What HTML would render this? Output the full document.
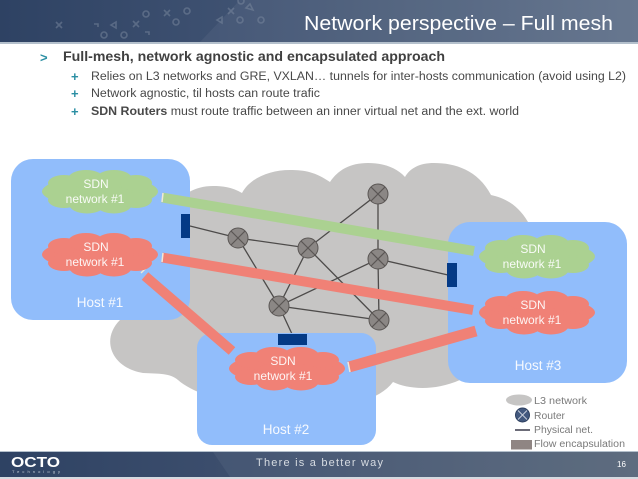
<!DOCTYPE html>
<html>
<head>
<meta charset="utf-8">
<style>
html,body{margin:0;padding:0;background:#fff;width:638px;height:479px;overflow:hidden}
svg{display:block;filter:blur(.3px)}
text{font-family:"Liberation Sans",sans-serif}
</style>
</head>
<body>
<svg width="638" height="479" viewBox="0 0 638 479" xmlns="http://www.w3.org/2000/svg">
<defs>
<linearGradient id="bar" x1="0" x2="1" y1="0" y2="0">
<stop offset="0" stop-color="#2e4263"/><stop offset=".33" stop-color="#3d5070"/><stop offset="1" stop-color="#5f7089"/>
</linearGradient>
<linearGradient id="foot" x1="0" x2="1" y1="0" y2="0">
<stop offset="0" stop-color="#2e4263"/><stop offset=".33" stop-color="#3b4d6c"/><stop offset="1" stop-color="#566579"/>
</linearGradient>
<g id="c">
<ellipse cx="58" cy="22.500" rx="58" ry="15"/>
<ellipse cx="22" cy="14" rx="16" ry="8"/>
<ellipse cx="44" cy="10" rx="18" ry="9"/>
<ellipse cx="72" cy="10" rx="18" ry="9"/>
<ellipse cx="94" cy="14" rx="16" ry="8"/>
<ellipse cx="22" cy="31" rx="16" ry="8"/>
<ellipse cx="45" cy="35" rx="18" ry="9.500"/>
<ellipse cx="72" cy="35" rx="18" ry="9.500"/>
<ellipse cx="94" cy="31" rx="16" ry="8"/>
</g>
<g id="r">
<circle r="10" fill="#8b8785" stroke="#5a5654" stroke-width="1"/>
<path d="M-7-7L7 7M7-7L-7 7" stroke="#5a5654" stroke-width="1.2"/>
</g>
</defs>

<!-- header -->
<rect x="0" y="0" width="638" height="42" fill="url(#bar)"/>
<polygon points="240,0 638,0 638,42 200,42" fill="#fff" opacity=".05"/>
<rect x="0" y="42" width="638" height="2" fill="#b4c0cc"/>
<g fill="none" stroke="#7d8ba0" stroke-width="1.6" opacity=".5">
<circle cx="146" cy="14" r="3"/><circle cx="187" cy="11" r="3"/><circle cx="176" cy="22" r="3"/><circle cx="104" cy="35" r="3"/><circle cx="124" cy="35" r="3"/><circle cx="240" cy="20" r="3"/><circle cx="261" cy="20" r="3"/><circle cx="241" cy="1" r="3"/>
<path d="M56 22l6 6M62 22l-6 6M133 21l6 6M139 21l-6 6M164 10l6 6M170 10l-6 6M228 8l6 6M234 8l-6 6M94 24h4v3M145 32h4v3M111 25l5-3v6zM217 20l5-3v6zM246 8l4-4 3 6z"/>
</g>
<text x="304" y="30" font-size="20" fill="#fff" textLength="309" lengthAdjust="spacingAndGlyphs">Network perspective – Full mesh</text>

<!-- bullets -->
<text x="40" y="62" font-size="13" font-weight="bold" fill="#2b8fa3">&gt;</text>
<text x="63" y="61" font-size="14" font-weight="bold" fill="#404040" textLength="382" lengthAdjust="spacingAndGlyphs">Full-mesh, network agnostic and encapsulated approach</text>
<g font-size="13" font-weight="bold" fill="#2b8fa3">
<text x="71" y="81">+</text><text x="71" y="98">+</text><text x="71" y="116">+</text>
</g>
<g font-size="11.5" fill="#484848">
<text x="91" y="80" textLength="535" lengthAdjust="spacingAndGlyphs">Relies on L3 networks and GRE, VXLAN… tunnels for inter-hosts communication (avoid using L2)</text>
<text x="91" y="97" textLength="229" lengthAdjust="spacingAndGlyphs">Network agnostic, til hosts can route trafic</text>
<text x="91" y="115" textLength="428" lengthAdjust="spacingAndGlyphs"><tspan font-weight="bold">SDN Routers</tspan> must route traffic between an inner virtual net and the ext. world</text>
</g>

<!-- L3 cloud -->
<g fill="#c6c5c4">
<path d="M120 320C100 340 112 368 143 373C160 374 170 373 178 380C195 395 240 410 300 405C340 405 375 405 393 382C410 390 440 392 470 375L600 330L528 222C518 205 505 198 491 195C478 170 455 163 434 163C420 163 410 168 405 177C395 166 380 163 368 163C350 163 338 170 330 182C315 172 305 170 290 170C270 170 250 178 242 193C232 187 222 186 213 186C195 186 180 195 170 210L100 300Z"/>
</g>

<!-- links -->
<g stroke="#4d4b4a" stroke-width="1.3" fill="none">
<path d="M190 226L238 238L308 248L378 194V259L379 320L279 306L238 238M308 248L279 306L378 259L448 275M308 248L379 320M279 306L292 334"/>
</g>

<!-- routers -->
<use href="#r" x="378" y="194"/>
<use href="#r" x="238" y="238"/>
<use href="#r" x="308" y="248"/>
<use href="#r" x="378" y="259"/>
<use href="#r" x="279" y="306"/>
<use href="#r" x="379" y="320"/>

<!-- hosts -->
<g fill="#91bdfb">
<rect x="11" y="159" width="179" height="161" rx="22"/>
<rect x="197" y="333" width="179" height="112" rx="15"/>
<rect x="448" y="222" width="179" height="161" rx="22"/>
</g>

<!-- encapsulation ports -->
<g fill="#043a86">
<rect x="181" y="214" width="9" height="24"/>
<rect x="447" y="263" width="10" height="24"/>
<rect x="278" y="334" width="29" height="11"/>
</g>

<!-- tunnels -->
<g stroke-width="10" fill="none">
<path d="M162 197.500L474 251" stroke="#abd191"/>
<path d="M162 257.500L473 310" stroke="#f08176"/>
<path d="M145 276L232 351" stroke="#f08176"/>
<path d="M349 367L476 331" stroke="#f08176" stroke-width="11"/>
</g>
<g stroke="#f1e8d8" stroke-width="1.500" fill="none">
<path d="M163 193L162 202"/><path d="M163 253L162 262"/><path d="M141 273L147 267"/><path d="M348 362L350 372"/>
</g>

<!-- SDN clouds -->
<use href="#c" x="42" y="169" fill="#abd191"/>
<use href="#c" x="42" y="232" fill="#f08176"/>
<use href="#c" x="479" y="234" fill="#abd191"/>
<use href="#c" x="479" y="290" fill="#f08176"/>
<use href="#c" x="229" y="346" fill="#f08176"/>

<g font-size="12" fill="#fff" text-anchor="middle" opacity=".92">
<text x="96" y="188">SDN</text><text x="95" y="203">network #1</text>
<text x="96" y="251">SDN</text><text x="95" y="266">network #1</text>
<text x="533" y="253">SDN</text><text x="532" y="268">network #1</text>
<text x="533" y="309">SDN</text><text x="532" y="324">network #1</text>
<text x="283" y="365">SDN</text><text x="283" y="380">network #1</text>
<text x="100" y="307" font-size="13.500">Host #1</text>
<text x="286" y="434" font-size="13.500">Host #2</text>
<text x="538" y="370" font-size="13.500">Host #3</text>
</g>

<!-- legend -->
<ellipse cx="519" cy="400" rx="13" ry="5.500" fill="#c6c5c4"/>
<circle cx="522.500" cy="415" r="7" fill="#42587e" stroke="#2d3f5e"/>
<path d="M518 410.500l9 9M527 410.500l-9 9" stroke="#c8cfdb" stroke-width="1"/>
<path d="M515 430H530" stroke="#3a3a4a" stroke-width="1.500"/>
<rect x="511" y="440" width="21" height="9.500" fill="#8f8583"/>
<g font-size="10" fill="#7a7a7a">
<text x="534" y="404" textLength="53" lengthAdjust="spacingAndGlyphs">L3 network</text>
<text x="534" y="419" textLength="31" lengthAdjust="spacingAndGlyphs">Router</text>
<text x="534" y="433" textLength="59" lengthAdjust="spacingAndGlyphs">Physical net.</text>
<text x="534" y="447" textLength="91" lengthAdjust="spacingAndGlyphs">Flow encapsulation</text>
</g>

<!-- footer -->
<rect x="0" y="451" width="638" height="1.500" fill="#b4c0cc"/>
<rect x="0" y="452" width="638" height="25" fill="url(#foot)"/>
<polygon points="213,452 638,452 638,477 230,477" fill="#fff" opacity=".05"/>
<rect x="0" y="477" width="638" height="2" fill="#d5dae0"/>
<text x="11" y="467" font-size="14.500" font-weight="bold" fill="#fff" textLength="49" lengthAdjust="spacingAndGlyphs">OCTO</text>
<text x="12" y="473" font-size="4" fill="#c4ccd6" textLength="48">Technology</text>
<text x="256" y="466" font-size="11" fill="#d6dbe1" textLength="127">There is a better way</text>
<text x="617" y="467" font-size="8" fill="#fff">16</text>
</svg>
</body>
</html>
